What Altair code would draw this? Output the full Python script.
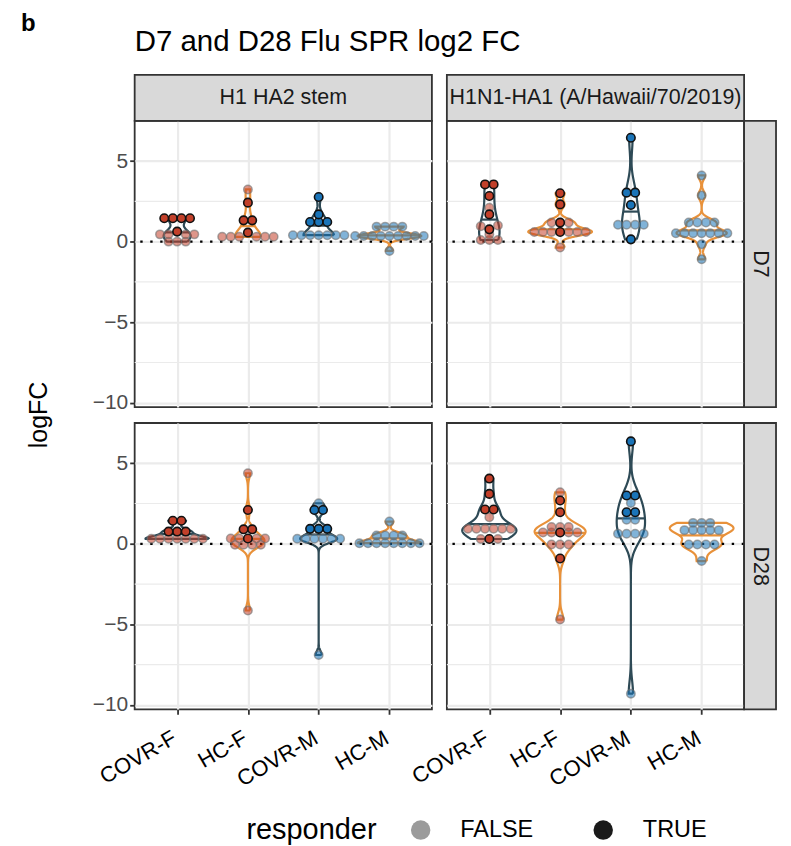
import numpy as np
import pandas as pd
import altair as alt

ANTIGENS = ["H1 HA2 stem", "H1N1-HA1 (A/Hawaii/70/2019)"]
DAYS = ["D7", "D28"]
GROUPS = ["COVR-F", "HC-F", "COVR-M", "HC-M"]
RESPONDER = ["FALSE", "TRUE"]
Y_TICKS = [-10, -5, 0, 5]
Y_MINOR = [-7.5, -2.5, 2.5]

# log2 FC values (responders / non-responders)
HA2_D7_TRUE = {"COVR-F": [1.45, 1.45, 1.45, 1.45, 0.62],
               "HC-F": [2.42, 1.32, 1.32, 0.56],
               "COVR-M": [2.77, 1.69, 1.22, 1.22, 1.22],
               "HC-M": []}
HA2_D7_FALSE = {"COVR-F": [0.45, 0.45, 0.45, 0.45, 0.0, 0.0, 0.0],
                "HC-F": [3.24, 0.3, 0.3, 0.3, 0.3, 0.3, 0.3],
                "COVR-M": [0.4, 0.4, 0.4, 0.4, 0.4, 0.4, 0.4],
                "HC-M": [0.93, 0.93, 0.93, 0.93, 0.35, 0.35, 0.35, 0.35, 0.35,
                         0.35, 0.35, 0.35, 0.35, -0.58]}
HA2_D28_TRUE = {"COVR-F": [1.43, 1.43, 0.76, 0.76, 0.76],
                "HC-F": [2.1, 0.9, 0.9, 0.33],
                "COVR-M": [2.1, 2.1, 0.93, 0.93, 0.93],
                "HC-M": []}
HA2_D28_FALSE = {"COVR-F": [0.31, 0.31, 0.31, 0.31, 0.31, 0.31, 0.31],
                 "HC-F": [4.38, 0.33, 0.33, 0.33, 0.33, -0.06, -0.06, -0.06, -0.06, -4.14],
                 "COVR-M": [2.52, 0.31, 0.31, 0.31, 0.31, 0.31, 0.31, -6.9],
                 "HC-M": [1.38, 0.52, 0.52, 0.52, 0.52, 0.04, 0.04, 0.04, 0.04,
                          0.04, 0.04, 0.04, 0.04]}
HA1_D7_TRUE = {"COVR-F": [3.55, 3.55, 2.83, 1.69, 0.76],
               "HC-F": [3.0, 2.31, 1.18, 0.6],
               "COVR-M": [6.45, 3.04, 3.04, 2.27, 0.14],
               "HC-M": []}
HA1_D7_FALSE = {"COVR-F": [2.1, 1.0, 0.95, 0.45, 0.1, 0.1, 0.1],
                "HC-F": [1.18, 1.18, 0.6, 0.6, 0.6, 0.6, 0.6, 0.6, -0.37],
                "COVR-M": [1.05, 1.05, 1.05, 1.05],
                "HC-M": [4.11, 2.87, 1.18, 1.18, 1.18, 1.18, 0.52, 0.52, 0.52, 0.52,
                         0.52, 0.52, 0.52, -0.17, -1.1]}
HA1_D28_TRUE = {"COVR-F": [4.05, 3.1, 2.13, 2.13, 0.3],
                "HC-F": [2.69, 1.96, 0.7, -0.91],
                "COVR-M": [6.36, 3.0, 3.0, 1.96, 1.96],
                "HC-M": []}
HA1_D28_FALSE = {"COVR-F": [1.65, 0.93, 0.93, 0.93, 0.93, 0.93, 0.93, 0.3, 0.3],
                 "HC-F": [3.2, 1.05, 1.05, 1.05, 0.7, 0.7, 0.7, 0.7, -0.04, -0.04, -0.04, -4.7],
                 "COVR-M": [2.54, 1.5, 1.5, 0.62, 0.62, 0.62, 0.62, -9.3],
                 "HC-M": [1.3, 1.3, 1.3, 0.85, 0.85, 0.85, 0.85, 0.85, -0.04, -0.04,
                          -0.04, -0.04, -1.07]}

PANELS = {("H1 HA2 stem", "D7"): (HA2_D7_TRUE, HA2_D7_FALSE),
          ("H1 HA2 stem", "D28"): (HA2_D28_TRUE, HA2_D28_FALSE),
          ("H1N1-HA1 (A/Hawaii/70/2019)", "D7"): (HA1_D7_TRUE, HA1_D7_FALSE),
          ("H1N1-HA1 (A/Hawaii/70/2019)", "D28"): (HA1_D28_TRUE, HA1_D28_FALSE)}

W, H = 298, 287
GX, GY = 15, 16
XDOM = [0.4, 4.6]
YDOM = [-10.27, 7.5]
PXX = W / (XDOM[1] - XDOM[0])
PXY = H / (YDOM[1] - YDOM[0])
DOT = 8.6
ROW_TOL = 0.3
FONT = "Liberation Sans"


def rows_layout(points):
    """Group nearly equal values into rows and spread each row symmetrically."""
    pts = sorted(points, key=lambda p: p[0])
    bins, cur = [], []
    for p in pts:
        if cur and p[0] - cur[0][0] > ROW_TOL:
            bins.append(cur)
            cur = []
        cur.append(p)
    if cur:
        bins.append(cur)
    out = []
    for b in bins:
        n = len(b)
        slots = sorted(range(n), key=lambda i: (abs(i - (n - 1) / 2), i))
        ordered = sorted(b, key=lambda p: not p[1])
        for s, (v, r) in zip(slots, ordered):
            out.append((v, r, (s - (n - 1) / 2) * DOT / PXX))
    return out


def nrd0(x):
    hi = np.std(x, ddof=1)
    q75, q25 = np.percentile(x, [75, 25])
    lo = min(hi, (q75 - q25) / 1.34)
    if not lo > 0:
        lo = hi if hi > 0 else 1.0
    return 0.9 * lo * len(x) ** -0.2


pt_rows, vio_rows, med_rows = [], [], []
for (ant, day), (tr, fa) in PANELS.items():
    dens = {}
    for g in GROUPS:
        vals = np.array(tr[g] + fa[g], dtype=float)
        grid = np.linspace(vals.min(), vals.max(), 512)
        bw = nrd0(vals)
        d = np.exp(-0.5 * ((grid[:, None] - vals[None, :]) / bw) ** 2).sum(1) / (len(vals) * bw * np.sqrt(2 * np.pi))
        dens[g] = (grid, d)
        pts = [(v, True) for v in tr[g]] + [(v, False) for v in fa[g]]
        for v, r, off in rows_layout(pts):
            pt_rows.append(dict(antigen=ant, day=day, group=g, sex=g[-1],
                                responder="TRUE" if r else "FALSE",
                                logFC=v, xpos=GROUPS.index(g) + 1 + off))
    mx = max(d.max() for _, d in dens.values())
    for g in GROUPS:
        grid, d = dens[g]
        hw = 0.45 * d / mx
        c = GROUPS.index(g) + 1
        xs = np.concatenate([c + hw, (c - hw)[::-1], [c + hw[0]]])
        ys = np.concatenate([grid, grid[::-1], [grid[0]]])
        vt = g.split("-")[0]
        for i, (xx, yy) in enumerate(zip(xs, ys)):
            vio_rows.append(dict(antigen=ant, day=day, group=g, vtype=vt, vx=xx, vy=yy, ord=i))
        cum = np.cumsum(d) / d.sum()
        my = np.interp(0.5, cum, grid)
        mw = np.interp(my, grid, hw)
        med_rows.append(dict(antigen=ant, day=day, group=g, vtype=vt, x0=c - mw, x1=c + mw, my=my))

points_df = pd.DataFrame(pt_rows)
violin_df = pd.DataFrame(vio_rows)
median_df = pd.DataFrame(med_rows)

xs_ = alt.Scale(domain=XDOM, nice=False, zero=False)
ys_ = alt.Scale(domain=YDOM, nice=False, zero=False)
vstroke = alt.Scale(domain=["COVR", "HC"], range=["#2E4A56", "#E8913A"])
sexfill = alt.Scale(domain=["F", "M"], range=["#C2402A", "#1A74B8"])
label_expr = "[" + ",".join(["''"] + ["'%s'" % g for g in GROUPS]) + "][datum.value]"


def panel(ai, di):
    ant, day = ANTIGENS[ai], DAYS[di]
    left, bottom = ai == 0, di == 1
    if bottom:
        xaxis = alt.Axis(values=[1, 2, 3, 4], labelExpr=label_expr, labelAngle=-30,
                         labelAlign="right", labelBaseline="top", title=None,
                         labelFontSize=22, labelColor="#000000", labelPadding=13,
                         labelOffset=-8, labelOverlap=False, labelBound=False)
    else:
        xaxis = alt.Axis(values=[1, 2, 3, 4], labels=False, ticks=False, domain=False, title=None)
    if left:
        yaxis = alt.Axis(values=Y_TICKS, title=None, labelFontSize=21, labelColor="#4D4D4D",
                         labelPadding=2, labelOverlap=False)
    else:
        yaxis = alt.Axis(values=Y_TICKS, labels=False, ticks=False, domain=False, title=None)

    def X(f):
        return alt.X(f, type="quantitative", scale=xs_, axis=xaxis)

    def Y(f):
        return alt.Y(f, type="quantitative", scale=ys_, axis=yaxis)

    pts = points_df[(points_df.antigen == ant) & (points_df.day == day)]
    vio = violin_df[(violin_df.antigen == ant) & (violin_df.day == day)]
    med = median_df[(median_df.antigen == ant) & (median_df.day == day)]

    minor = alt.Chart(pd.DataFrame({"y": Y_MINOR})).mark_rule(
        color="#EBEBEB", strokeWidth=1.1).encode(y=Y("y"))
    violins = alt.Chart(vio).mark_line(strokeWidth=2.2).encode(
        x=X("vx"), y=Y("vy"), order="ord:Q", detail="group:N",
        stroke=alt.Stroke("vtype:N", scale=vstroke, legend=None))
    medians = alt.Chart(med).mark_rule(strokeWidth=2.2).encode(
        x=X("x0"), x2="x1", y=Y("my"),
        stroke=alt.Stroke("vtype:N", scale=vstroke, legend=None))
    zero = alt.Chart(pd.DataFrame({"y": [0]})).mark_rule(
        color="black", strokeWidth=2.4, strokeDash=[2.4, 7.6]).encode(y=Y("y"))
    pf = alt.Chart(pts[pts.responder == "FALSE"]).mark_circle(
        size=72, opacity=1, fillOpacity=0.55, stroke="#707070", strokeOpacity=0.6,
        strokeWidth=1.5).encode(x=X("xpos"), y=Y("logFC"),
                                fill=alt.Fill("sex:N", scale=sexfill, legend=None))
    pt = alt.Chart(pts[pts.responder == "TRUE"]).mark_circle(
        size=72, opacity=1, stroke="#111111", strokeWidth=1.6).encode(
        x=X("xpos"), y=Y("logFC"), fill=alt.Fill("sex:N", scale=sexfill, legend=None))
    layers = [minor, violins, medians, zero, pf, pt]

    if not bottom:
        sdf = pd.DataFrame({"t": [ant]})
        layers.append(alt.Chart(sdf).mark_rect(fill="#D9D9D9", stroke="#333333", strokeWidth=1.8).encode(
            x=alt.value(0), x2=alt.value(W), y=alt.value(-46), y2=alt.value(0)))
        layers.append(alt.Chart(sdf).mark_text(fontSize=21.5, color="#1A1A1A", font=FONT).encode(
            text="t:N", x=alt.value(W / 2), y=alt.value(-23)))
    if not left:
        rdf = pd.DataFrame({"t": [day]})
        layers.append(alt.Chart(rdf).mark_rect(fill="#D9D9D9", stroke="#333333", strokeWidth=1.8).encode(
            x=alt.value(W), x2=alt.value(W + 32), y=alt.value(0), y2=alt.value(H)))
        layers.append(alt.Chart(rdf).mark_text(fontSize=21.5, color="#1A1A1A", angle=90, font=FONT).encode(
            text="t:N", x=alt.value(W + 16), y=alt.value(H / 2)))
    if left and not bottom:
        layers.append(alt.Chart(pd.DataFrame({"t": ["b"]})).mark_text(
            fontSize=24, fontWeight="bold", align="left", baseline="middle", font=FONT).encode(
            text="t:N", x=alt.value(-114), y=alt.value(-97)))
        layers.append(alt.Chart(pd.DataFrame({"t": ["D7 and D28 Flu SPR log2 FC"]})).mark_text(
            fontSize=29.5, align="left", baseline="middle", font=FONT).encode(
            text="t:N", x=alt.value(0), y=alt.value(-79)))
        layers.append(alt.Chart(pd.DataFrame({"t": ["logFC"]})).mark_text(
            fontSize=25, angle=270, baseline="middle", font=FONT).encode(
            text="t:N", x=alt.value(-96), y=alt.value(H + GY / 2)))
    if left and bottom:
        layers.append(alt.Chart(pts.head(1)).mark_circle(opacity=1).encode(
            color=alt.Color("responder:N", scale=alt.Scale(domain=RESPONDER, range=["#9B9B9B", "#1A1A1A"]),
                            legend=alt.Legend(orient="none", legendX=112, legendY=699,
                                              direction="horizontal", titleOrient="left",
                                              title="responder", symbolSize=380,
                                              symbolStrokeWidth=0, labelFontSize=23.5,
                                              titleFontSize=29, titleFontWeight="normal",
                                              titleColor="#000000", labelColor="#000000",
                                              labelOffset=28, columnPadding=58,
                                              titlePadding=32, titleBaseline="middle"))
        ).transform_filter("false"))
    return alt.layer(*layers).properties(width=W, height=H)


chart = alt.concat(panel(0, 0), panel(1, 0), panel(0, 1), panel(1, 1),
                   columns=2, spacing=alt.RowColnumber(row=GY, column=GX), bounds="flush").properties(
    padding={"left": 12, "top": 2, "right": 5, "bottom": 2}
).configure(font=FONT).configure_view(
    stroke="#333333", strokeWidth=1.8
).configure_axis(
    gridColor="#EBEBEB", gridWidth=2.2, tickColor="#333333", tickWidth=1.8, tickSize=5,
    domain=False, labelFont=FONT
).configure_legend(labelFont=FONT, titleFont=FONT)

chart.save("out.html", embed_options={"renderer": "svg", "actions": False})
